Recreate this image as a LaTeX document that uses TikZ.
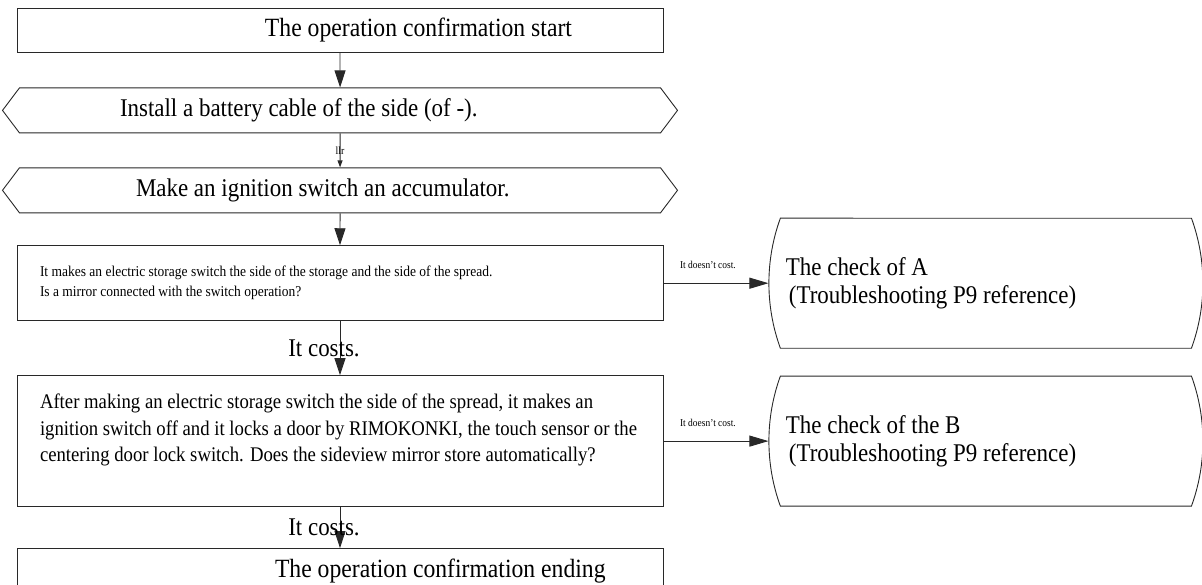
\documentclass[tikz,border=0pt]{standalone}
\usepackage{fontspec}
\setmainfont[FakeStretch=0.9]{Liberation Serif}
\usepackage{tikz}
\usetikzlibrary{positioning,shapes.symbols,shapes.misc,arrows.meta}
\definecolor{edge}{RGB}{40,40,40}
\tikzset{
  stepbox/.style={draw=edge,line width=0.9pt,rectangle,minimum width=646pt,inner sep=0pt,text width=600pt,align=flush left,font=\fontsize{26.3}{29}\selectfont},
  hexbox/.style={draw=edge,line width=0.9pt,signal,signal to=west and east,signal pointer angle=106,minimum width=675pt,minimum height=45pt,inner sep=0pt,text width=600pt,align=flush left,font=\fontsize{25.5}{29}\selectfont},
  checkbox/.style={draw=edge,line width=0.9pt,rounded rectangle,rounded rectangle arc length=40,minimum width=434pt,minimum height=130pt,inner sep=0pt,text width=400pt,align=flush left,font=\fontsize{25.5}{28}\selectfont},
  flow/.style={draw=edge,line width=0.9pt,-{Triangle[length=17pt,width=11pt]}},
  thinflow/.style={draw=edge,line width=0.9pt,-{Triangle[length=7pt,width=5pt]}},
  sideflow/.style={draw=edge,line width=0.9pt,-{Triangle[length=19pt,width=11pt]}},
  nolabel/.style={above=14pt,xshift=-8pt,font=\fontsize{10.5}{12}\selectfont,inner sep=0pt},
  yeslabel/.style={xshift=-16pt,font=\fontsize{25.5}{29}\selectfont,inner sep=0pt},
}

\begin{document}
\begin{tikzpicture}[x=1pt,y=1pt]
  \useasboundingbox (0,0) rectangle (1202,-584);
  \clip (0,0) rectangle (1202,-584);
  % main column
  \node[stepbox,minimum height=44pt] (start) at (340,-30) {\hspace*{225pt}The operation confirmation start};
  \node[hexbox,below=35pt of start] (cable) {\hspace*{80pt}Install a battery cable of the side (of -).};
  \node[hexbox,below=34pt of cable] (acc) {\hspace*{96pt}Make an ignition switch an accumulator.};
  \node[stepbox,minimum height=75pt,font=\fontsize{15}{20}\selectfont,below=32pt of acc] (q1)
        {It makes an electric storage switch the side of the storage and the side of the spread.\\
         Is a mirror connected with the switch operation?};
  \node[stepbox,minimum height=131pt,font=\fontsize{20.8}{26.5}\selectfont,below=54pt of q1] (q2)
        {\mbox{After making an electric storage switch the side of the spread, it makes an}\\
         \mbox{ignition switch off and it locks a door by RIMOKONKI, the touch sensor or the}\\
         \mbox{centering door lock switch. Does the sideview mirror store automatically?}\\ \mbox{}};
  \node[stepbox,minimum height=45pt,below=41pt of q2] (finish) {\hspace*{235pt}The operation confirmation ending};
  % checks on the right
  \node[checkbox,right=105pt of q1] (chkA) {The check of A\\ \hspace*{3pt}(Troubleshooting P9 reference)};
  \node[checkbox,right=105pt of q2] (chkB) {The check of the B\\ \hspace*{3pt}(Troubleshooting P9 reference)};
  % connectors
  \draw[flow] (start) -- (cable);
  \draw[thinflow] (cable) -- node[font=\fontsize{11}{12}\selectfont,inner sep=0pt]{llr} (acc);
  \draw[flow] (acc) -- (q1);
  \draw[flow] (q1) -- node[yeslabel]{It costs.} (q2);
  \draw[flow] (q2) -- node[yeslabel]{It costs.} (finish);
  \draw[sideflow] (q1) -- node[nolabel]{It doesn't cost.} (chkA);
  \draw[sideflow] (q2) -- node[nolabel]{It doesn't cost.} (chkB);
\end{tikzpicture}
\end{document}
